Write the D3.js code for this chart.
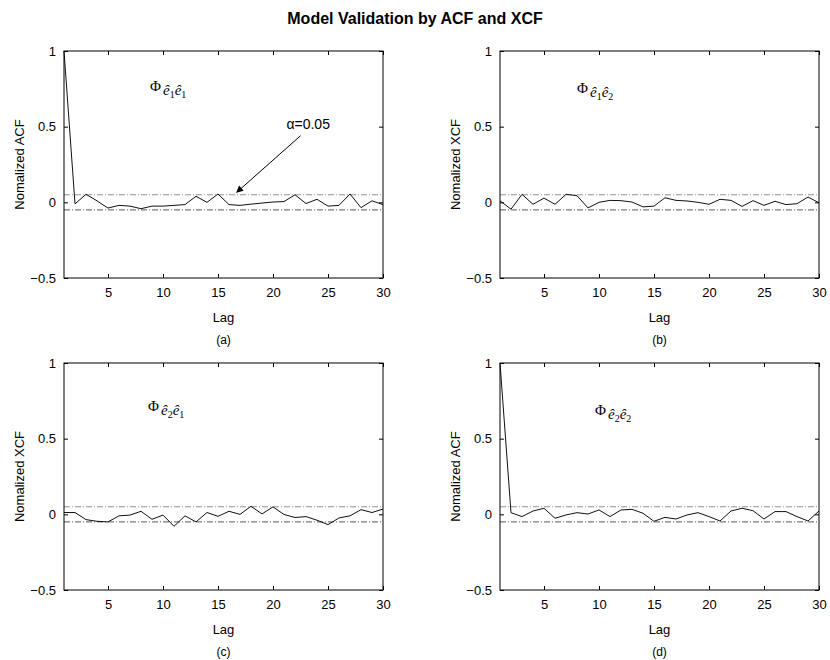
<!DOCTYPE html>
<html>
<head>
<meta charset="utf-8">
<script src="https://cdn.jsdelivr.net/npm/d3@7"></script>
<style>
body { margin: 0; background: #fff; }
text { font-family: "Liberation Sans", Arial, sans-serif; fill: #000; }
</style>
</head>
<body>
<div id="viz"></div>
<script>
// lag axis and ticks
const lags = [1, 2, 3, 4, 5, 6, 7, 8, 9, 10, 11, 12, 13, 14, 15, 16, 17, 18, 19, 20, 21, 22, 23, 24, 25, 26, 27, 28, 29, 30];
const xTicks = [5, 10, 15, 20, 25, 30];
const yTicks = [-0.5, 0, 0.5, 1];
const confBound = 0.05;

// values
const acfE1E1 = [1, -0.01, 0.053, 0.01, -0.038, -0.02, -0.025, -0.042, -0.025, -0.025, -0.02, -0.015, 0.04, 0.0, 0.055, -0.015, -0.02, -0.012, -0.005, 0.002, 0.005, 0.05, -0.008, 0.02, -0.025, -0.02, 0.055, -0.035, 0.01, -0.015];
const xcfE1E2 = [0.01, -0.045, 0.053, -0.013, 0.028, -0.013, 0.053, 0.044, -0.037, 0.0, 0.013, 0.011, 0.002, -0.03, -0.025, 0.03, 0.013, 0.009, 0.0, -0.013, 0.02, 0.013, -0.027, 0.011, -0.02, 0.007, -0.015, -0.009, 0.035, -0.003];
const xcfE2E1 = [0.012, 0.012, -0.035, -0.046, -0.05, -0.01, -0.005, 0.02, -0.033, -0.005, -0.079, -0.01, -0.05, 0.012, -0.013, 0.02, 0.0, 0.053, 0.003, 0.049, -0.001, -0.021, -0.015, -0.039, -0.068, -0.024, -0.01, 0.031, 0.012, 0.035];
const acfE2E2 = [1, 0.011, -0.015, 0.022, 0.04, -0.026, -0.004, 0.011, 0.002, 0.029, -0.015, 0.029, 0.033, 0.007, -0.046, -0.02, -0.031, -0.004, 0.011, -0.015, -0.044, 0.022, 0.04, 0.024, -0.031, 0.018, 0.018, -0.015, -0.044, 0.022];

const width = 830;
const height = 660;

const svg = d3.select("#viz")
    .append("svg")
    .attr("width", width)
    .attr("height", height);

svg.append("defs").append("marker")
    .attr("id", "arrow")
    .attr("viewBox", "0 0 10 10")
    .attr("refX", 9)
    .attr("refY", 5)
    .attr("markerWidth", 10)
    .attr("markerHeight", 7)
    .attr("markerUnits", "userSpaceOnUse")
    .attr("orient", "auto")
  .append("path")
    .attr("d", "M0,0 L10,5 L0,10 Z")
    .attr("fill", "#000");

svg.append("text")
    .attr("x", 415)
    .attr("y", 24)
    .attr("text-anchor", "middle")
    .style("font-weight", "bold")
    .style("font-size", "16px")
    .text("Model Validation by ACF and XCF");

const plotW = 319;
const plotH = 227;

const panels = [
    {values: acfE1E1, left: 64, top: 51, yLabel: "Nomalized ACF", sub: ["1", "1"], tag: "(a)", phi: [86, 40], arrow: true},
    {values: xcfE1E2, left: 500, top: 51, yLabel: "Nomalized XCF", sub: ["1", "2"], tag: "(b)", phi: [77, 42]},
    {values: xcfE2E1, left: 64, top: 363, yLabel: "Nomalized XCF", sub: ["2", "1"], tag: "(c)", phi: [84, 48]},
    {values: acfE2E2, left: 500, top: 363, yLabel: "Nomalized ACF", sub: ["2", "2"], tag: "(d)", phi: [95, 52]}
];

const xScale = d3.scaleLinear().domain([1, 30]).range([0, plotW]);
const yScale = d3.scaleLinear().domain([-0.5, 1]).range([plotH, 0]);

const line = d3.line()
    .x((d, i) => xScale(lags[i]))
    .y(d => yScale(d));

panels.forEach(p => {
    const g = svg.append("g")
        .attr("transform", `translate(${p.left}, ${p.top})`);

    // confidence bounds
    g.append("line")
        .attr("x1", 0).attr("x2", plotW)
        .attr("y1", yScale(confBound)).attr("y2", yScale(confBound))
        .attr("stroke", "#888")
        .attr("stroke-width", 0.9)
        .attr("stroke-dasharray", "6,2,1,2");
    g.append("line")
        .attr("x1", 0).attr("x2", plotW)
        .attr("y1", yScale(-confBound)).attr("y2", yScale(-confBound))
        .attr("stroke", "#444")
        .attr("stroke-width", 0.9)
        .attr("stroke-dasharray", "6,2,1,2");

    g.append("path")
        .datum(p.values)
        .attr("d", line)
        .attr("fill", "none")
        .attr("stroke", "#111")
        .attr("stroke-width", 1);

    // axes, MATLAB style: ticks pointing in, box all round
    const bottom = g.append("g")
        .attr("transform", `translate(0, ${plotH})`)
        .call(d3.axisBottom(xScale).tickValues(xTicks).tickSizeInner(-4).tickSizeOuter(0).tickPadding(10));
    const top = g.append("g")
        .call(d3.axisTop(xScale).tickValues(xTicks).tickSizeInner(-4).tickSizeOuter(0).tickFormat(""));
    const left = g.append("g")
        .call(d3.axisLeft(yScale).tickValues(yTicks).tickSizeInner(-4).tickSizeOuter(0).tickPadding(8)
            .tickFormat(d => d3.format("")(d)));
    const right = g.append("g")
        .attr("transform", `translate(${plotW}, 0)`)
        .call(d3.axisRight(yScale).tickValues(yTicks).tickSizeInner(-4).tickSizeOuter(0).tickFormat(""));

    [bottom, top, left, right].forEach(a => {
        a.select(".domain").remove();
        a.selectAll("line").attr("stroke", "#000");
        a.selectAll("text").style("font-size", "13px").attr("fill", "#000");
    });

    g.append("rect")
        .attr("width", plotW)
        .attr("height", plotH)
        .attr("fill", "none")
        .attr("stroke", "#000")
        .attr("stroke-width", 1);

    g.append("text")
        .attr("x", plotW / 2)
        .attr("y", plotH + 44)
        .attr("text-anchor", "middle")
        .style("font-size", "13px")
        .text("Lag");

    g.append("text")
        .attr("x", plotW / 2)
        .attr("y", plotH + 66)
        .attr("text-anchor", "middle")
        .style("font-size", "12px")
        .text(p.tag);

    g.append("text")
        .attr("transform", `translate(-40, ${plotH / 2}) rotate(-90)`)
        .attr("text-anchor", "middle")
        .style("font-size", "13px")
        .text(p.yLabel);

    // Phi label with subscripted e-hats
    const phi = g.append("text")
        .attr("x", p.phi[0])
        .attr("y", p.phi[1])
        .style("font-family", "'Liberation Serif', 'DejaVu Serif', serif")
        .style("font-size", "15px");
    phi.append("tspan").text("\u03A6");
    phi.append("tspan").attr("dy", 4).attr("dx", 2).style("font-style", "italic").text("\u00EA");
    phi.append("tspan").attr("dy", 3).style("font-size", "10px").text(p.sub[0]);
    phi.append("tspan").attr("dy", -3).style("font-style", "italic").text("\u00EA");
    phi.append("tspan").attr("dy", 3).style("font-size", "10px").text(p.sub[1]);

    if (p.arrow) {
        g.append("line")
            .attr("x1", xScale(22.5)).attr("y1", yScale(0.44))
            .attr("x2", xScale(16.7)).attr("y2", yScale(0.066))
            .attr("stroke", "#000")
            .attr("stroke-width", 1)
            .attr("marker-end", "url(#arrow)");
        g.append("text")
            .attr("x", xScale(23.2))
            .attr("y", yScale(0.52) + 5)
            .attr("text-anchor", "middle")
            .style("font-size", "14px")
            .text("\u03B1=0.05");
    }
});
</script>
</body>
</html>
